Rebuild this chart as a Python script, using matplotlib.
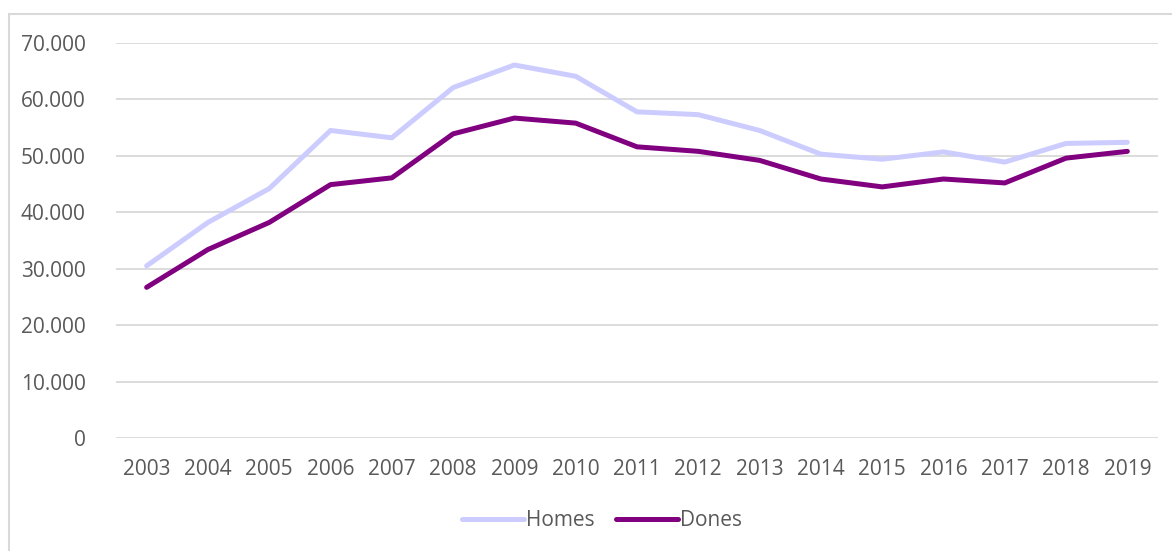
import matplotlib.pyplot as plt
from matplotlib.patches import Rectangle
from matplotlib.ticker import FuncFormatter

years = [str(y) for y in range(2003, 2020)]
homes = [30500, 38200, 44200, 54500, 53200, 62100, 66100, 64100, 57800,
         57300, 54500, 50300, 49400, 50700, 48900, 52200, 52400]
dones = [26700, 33400, 38200, 44900, 46100, 53900, 56700, 55800, 51600,
         50800, 49200, 45900, 44500, 45900, 45200, 49600, 50800]

plt.rcParams['font.family'] = ['Open Sans', 'DejaVu Sans']
text_color = '#595959'

fig = plt.figure(figsize=(11.72, 5.51), dpi=100)
ax = fig.add_axes([116 / 1172, 113 / 551, 1042 / 1172, 395 / 551])

# chart frame
fig.patches.append(Rectangle((9 / 1172, -0.1), 1.2, (551 - 14) / 551 + 0.1,
                             transform=fig.transFigure, fill=False,
                             edgecolor='#d9d9d9', linewidth=1.5))

x = list(range(len(years)))
ax.plot(x, homes, color='#ccccff', linewidth=3.6, label='Homes', solid_capstyle='round')
ax.plot(x, dones, color='#800080', linewidth=3.6, label='Dones', solid_capstyle='round')

ax.set_xlim(-0.5, len(years) - 0.5)
ax.set_ylim(0, 70000)
ax.set_yticks(range(0, 70001, 10000))
ax.yaxis.set_major_formatter(FuncFormatter(lambda v, p: f'{int(v):,}'.replace(',', '.')))
ax.set_xticks(x)
ax.set_xticklabels(years)

ax.grid(axis='y', color='#d9d9d9', linewidth=1.3)
ax.set_axisbelow(True)
for s in ax.spines.values():
    s.set_visible(False)
ax.tick_params(axis='both', length=0, labelsize=15, colors=text_color)
ax.tick_params(axis='y', pad=22)
ax.tick_params(axis='x', pad=15)

leg = fig.legend(loc='center', bbox_to_anchor=(602 / 1172, 1 - 521 / 551), ncol=2,
                 frameon=False, fontsize=15, handlelength=3.0, handletextpad=0.1,
                 columnspacing=1.0)
for t in leg.get_texts():
    t.set_color(text_color)

fig.savefig('out.png', dpi=100)
